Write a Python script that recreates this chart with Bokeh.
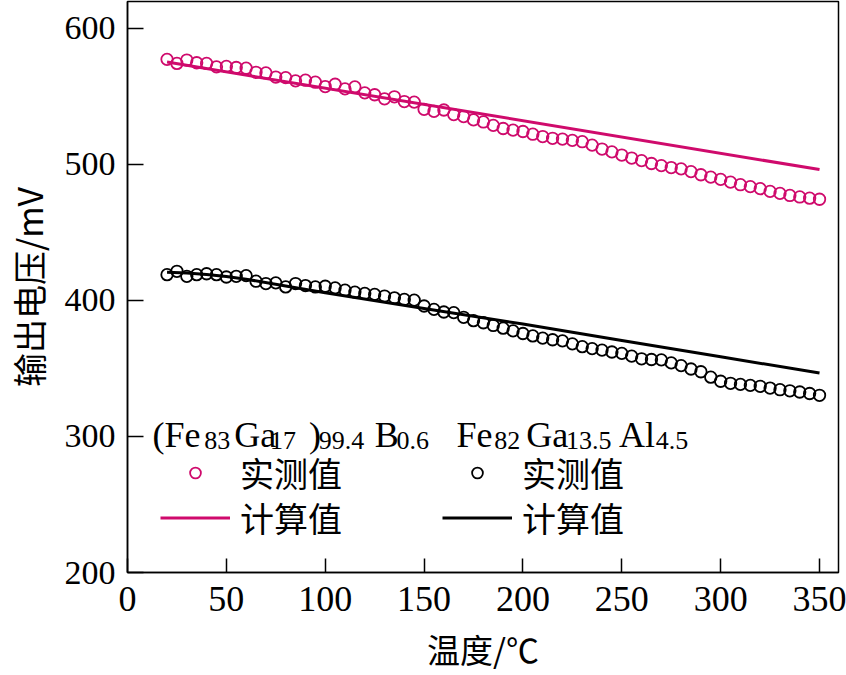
from bokeh.plotting import figure
from bokeh.models import Range1d, Legend, LegendItem, Label, FixedTicker
from bokeh.embed import file_html
from bokeh.resources import INLINE

# ---- data -------------------------------------------------------------
temps = [20, 25, 30, 35, 40, 45, 50, 55, 60, 65, 70, 75, 80, 85, 90, 95,
         100, 105, 110, 115, 120, 125, 130, 135, 140, 145, 150, 155, 160,
         165, 170, 175, 180, 185, 190, 195, 200, 205, 210, 215, 220, 225,
         230, 235, 240, 245, 250, 255, 260, 265, 270, 275, 280, 285, 290,
         295, 300, 305, 310, 315, 320, 325, 330, 335, 340, 345, 350]

feGaB_measured = [577.0, 574.0, 576.5, 574.5, 574.0, 571.5, 571.8, 571.0, 570.5,
                  567.5, 567.0, 564.0, 563.6, 561.2, 561.7, 560.2, 557.0, 558.7,
                  555.3, 556.8, 552.4, 551.0, 548.0, 549.5, 546.0, 545.6, 540.3,
                  538.8, 539.8, 536.4, 534.9, 532.5, 531.0, 528.5, 526.2, 525.0,
                  524.0, 522.0, 520.3, 519.0, 518.4, 517.5, 516.5, 514.0, 511.1,
                  509.0, 506.7, 504.5, 502.6, 500.5, 498.9, 497.5, 496.5, 494.5,
                  492.2, 490.5, 488.8, 486.8, 484.9, 483.5, 482.0, 480.0, 478.5,
                  477.0, 475.9, 475.0, 474.2]

feGaAl_measured = [418.8, 421.3, 417.6, 418.8, 419.5, 418.8, 417.1, 417.6, 418.1,
                   414.0, 412.3, 412.8, 409.8, 412.3, 410.8, 409.8, 410.3, 409.1,
                   407.4, 406.0, 405.0, 404.3, 403.1, 401.8, 400.6, 400.1, 395.8,
                   393.3, 391.4, 390.9, 387.5, 385.0, 383.5, 381.5, 379.5, 377.5,
                   375.6, 373.8, 372.2, 371.0, 370.2, 368.0, 365.9, 364.5, 363.4,
                   362.0, 361.0, 359.0, 357.0, 356.5, 356.2, 354.0, 352.0, 349.5,
                   347.5, 343.5, 340.5, 339.0, 338.2, 337.5, 336.8, 335.5, 334.3,
                   333.5, 332.6, 331.5, 330.2]

feGaB_calc_t = [20, 350]
feGaB_calc_v = [575.0, 496.0]

feGaAl_calc_t = [20, 30, 40, 50, 60, 80, 100, 150, 200, 250, 300, 350]
feGaAl_calc_v = [420.5, 420.0, 419.0, 417.5, 415.5, 410.5, 405.5, 394.0,
                 382.5, 370.5, 358.5, 346.5]

x_ticks = [0, 50, 100, 150, 200, 250, 300, 350]
y_ticks = [200, 300, 400, 500, 600]

x_title = "温度/℃"
y_title = "输出电压/mV"

PINK = "#CF0A6C"
BLACK = "#000000"
SERIF = "Liberation Serif"
CJK = "Noto Sans CJK SC"

# ---- figure -----------------------------------------------------------
p = figure(width=846, height=675, output_backend="svg", toolbar_location=None,
           x_range=Range1d(0, 359.6), y_range=Range1d(200, 619.5),
           min_border_left=125, min_border_right=8, min_border_top=1,
           min_border_bottom=101)
p.grid.visible = False
p.background_fill_color = "white"
p.border_fill_color = "white"
p.outline_line_color = "black"
p.outline_line_width = 1.5

for ax in (p.xaxis, p.yaxis):
    ax.axis_line_width = 1.5
    ax.major_tick_line_width = 1.5
    ax.major_tick_out = 0
    ax.minor_tick_in = 0
    ax.minor_tick_out = 0
    ax.major_label_text_font = SERIF
    ax.major_label_text_color = "black"
    ax.axis_label_text_font = CJK
    ax.axis_label_text_font_style = "normal"
    ax.axis_label_text_color = "black"

p.xaxis.ticker = FixedTicker(ticks=x_ticks)
p.yaxis.ticker = FixedTicker(ticks=y_ticks)
p.xaxis.major_tick_in = 14
p.yaxis.major_tick_in = 16
p.xaxis.major_label_text_font_size = "36px"
p.yaxis.major_label_text_font_size = "34px"
p.xaxis.major_label_standoff = 14
p.yaxis.major_label_standoff = 12
p.xaxis.axis_label = x_title
p.yaxis.axis_label = y_title
p.xaxis.axis_label_text_font_size = "33px"
p.yaxis.axis_label_text_font_size = "34px"
p.xaxis.axis_label_standoff = 11
p.yaxis.axis_label_standoff = 9

# ---- data glyphs --------------------------------------------------------
r_pink_line = p.line(feGaB_calc_t, feGaB_calc_v, line_color=PINK, line_width=3)
r_pink_pts = p.scatter(temps, feGaB_measured, marker="circle", size=11.5,
                       fill_color="white", fill_alpha=0.0, line_color=PINK,
                       line_width=1.8)
r_black_line = p.line(feGaAl_calc_t, feGaAl_calc_v, line_color=BLACK, line_width=3)
r_black_pts = p.scatter(temps, feGaAl_measured, marker="circle", size=11.5,
                        fill_color="white", fill_alpha=0.0, line_color=BLACK,
                        line_width=1.8)

# ---- legends (one per cell so rows sit where the reference has them) ----
def make_legend(renderer, label, loc):
    return Legend(items=[LegendItem(label=label, renderers=[renderer])],
                  location=loc, orientation="vertical",
                  glyph_width=70, glyph_height=27, label_height=27,
                  label_standoff=10, spacing=0, padding=0, margin=0,
                  border_line_color=None, background_fill_alpha=0.0,
                  label_text_font=CJK, label_text_font_size="34px",
                  label_text_color="black")

p.add_layout(make_legend(r_pink_pts, "实测值", (33, 75)))
p.add_layout(make_legend(r_pink_line, "计算值", (33, 30)))
p.add_layout(make_legend(r_black_pts, "实测值", (315, 75)))
p.add_layout(make_legend(r_black_line, "计算值", (315, 30)))

# ---- composition titles with subscripts ----------------------------------
def px_x(px):
    return (px - 125) / 1.9837

def px_y(py):
    return 200 + (574.3 - py) / 1.3665

big_base = px_y(436)
sub_base = px_y(442)

pieces = [
    ("(Fe", 150, True), ("83", 202, False), ("Ga", 232, True), ("17", 268, False),
    (")", 307, True), ("99.4", 317, False), ("B", 373, True), ("0.6", 395, False),
    ("Fe", 455, True), ("82", 493, False), ("Ga", 525, True), ("13.5", 565, False),
    ("Al", 618, True), ("4.5", 655, False),
]
for txt, px, big in pieces:
    p.add_layout(Label(x=px_x(px), y=big_base if big else sub_base, text=txt,
                       text_font=SERIF, text_font_size="36px" if big else "26px",
                       text_color="black", text_align="left",
                       text_baseline="alphabetic"))

open("out.html", "w").write(file_html(p, INLINE))
